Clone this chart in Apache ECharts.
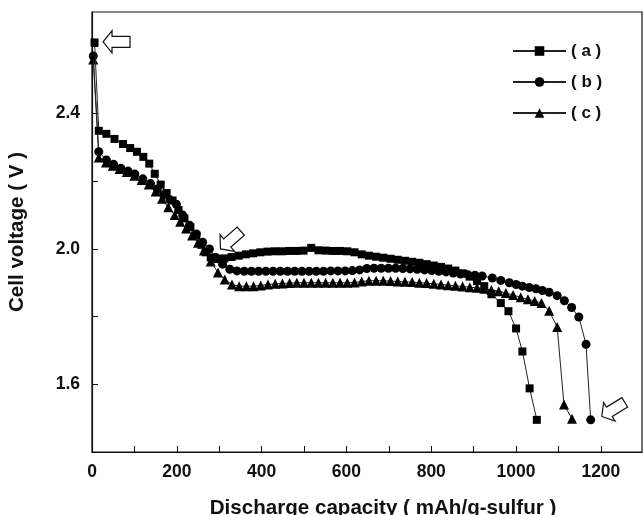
<!DOCTYPE html>
<html><head><meta charset="utf-8">
<script src="https://cdn.jsdelivr.net/npm/echarts@6/dist/echarts.min.js"></script>
<style>html,body{margin:0;padding:0;background:#fff}#c{width:643px;height:515px}</style>
</head><body><div id="c"></div>
<script>
const seriesNames = ['( a )', '( b )', '( c )'];
const seriesSymbols = ['rect', 'circle', 'triangle'];

// (a) squares: [capacity mAh/g, voltage V]
const dataA = [[6,2.61],[16,2.349],[34,2.34],[53,2.325],[73,2.31],[90,2.298],[106,2.287],[121,2.272],[135,2.252],[148,2.222],[162,2.19],[176,2.165],[190,2.143],[204,2.115],[218,2.09],[232,2.064],[246,2.04],[258,2.012],[268,1.99],[280,1.975],[296,1.97],[312,1.972],[329,1.976],[346,1.98],[363,1.984],[380,1.987],[397,1.99],[414,1.992],[431,1.993],[448,1.993],[465,1.994],[482,1.994],[499,1.995],[517,2.003],[534,1.996],[551,1.995],[568,1.994],[585,1.994],[602,1.993],[619,1.99],[636,1.984],[653,1.98],[670,1.977],[687,1.974],[704,1.971],[721,1.968],[738,1.965],[755,1.962],[772,1.959],[789,1.955],[806,1.951],[823,1.947],[840,1.942],[857,1.936],[874,1.928],[891,1.918],[908,1.905],[925,1.89],[942,1.866],[964,1.84],[982,1.816],[1000,1.765],[1015,1.697],[1032,1.588],[1049,1.495]];

// (b) circles
const dataB = [[3,2.57],[16,2.287],[34,2.263],[51,2.25],[68,2.238],[85,2.23],[101,2.221],[120,2.207],[138,2.193],[154,2.177],[169,2.16],[184,2.145],[199,2.132],[214,2.1],[230,2.07],[246,2.044],[261,2.02],[277,2.0],[292,1.975],[308,1.955],[325,1.94],[342,1.935],[359,1.934],[376,1.934],[393,1.934],[410,1.934],[427,1.934],[444,1.934],[461,1.934],[478,1.934],[495,1.934],[512,1.934],[529,1.934],[546,1.934],[563,1.935],[580,1.935],[597,1.935],[614,1.936],[631,1.938],[648,1.942],[665,1.943],[682,1.943],[699,1.943],[716,1.943],[733,1.942],[750,1.941],[767,1.94],[784,1.938],[801,1.936],[818,1.934],[835,1.932],[852,1.929],[869,1.926],[886,1.924],[903,1.922],[920,1.92],[944,1.914],[964,1.907],[984,1.9],[1000,1.895],[1015,1.89],[1031,1.886],[1047,1.882],[1062,1.877],[1078,1.872],[1097,1.862],[1114,1.847],[1131,1.827],[1148,1.799],[1165,1.718],[1176,1.495]];

// (c) triangles
const dataC = [[3,2.56],[16,2.27],[33,2.255],[49,2.246],[65,2.236],[82,2.227],[100,2.216],[117,2.204],[134,2.19],[150,2.17],[165,2.148],[180,2.123],[195,2.1],[208,2.08],[222,2.06],[236,2.04],[250,2.018],[264,1.995],[280,1.963],[297,1.93],[313,1.91],[330,1.895],[347,1.89],[364,1.89],[381,1.89],[398,1.892],[415,1.895],[432,1.897],[449,1.898],[466,1.899],[483,1.9],[500,1.9],[517,1.9],[534,1.9],[551,1.9],[568,1.9],[585,1.9],[602,1.9],[619,1.901],[636,1.904],[653,1.906],[670,1.906],[687,1.906],[704,1.905],[721,1.904],[738,1.903],[755,1.902],[772,1.9],[789,1.899],[806,1.897],[823,1.895],[840,1.893],[857,1.891],[874,1.889],[891,1.887],[908,1.885],[925,1.882],[942,1.879],[959,1.875],[976,1.87],[993,1.864],[1011,1.857],[1028,1.851],[1044,1.846],[1060,1.84],[1078,1.817],[1097,1.769],[1113,1.54],[1132,1.498]];

const xLabelValues = [0, 200, 400, 600, 800, 1000, 1200];
const yLabelValues = [1.6, 2.0, 2.4];
// annotation arrows: [capacity, voltage of the tip, rotation (rad)]
const arrowTips = [[26, 2.612, 0], [303, 2.0, 0.72], [1202, 1.505, 0.55]];

const FONT = '"Liberation Sans", Arial, sans-serif';
const symbolSizes = [8, 9, 10];
const allData = [dataA, dataB, dataC];

const chart = echarts.init(document.getElementById('c'), null, {renderer: 'canvas'});
const option = {
  animation: false,
  backgroundColor: '#fff',
  grid: {left: 92, right: 1, top: 12, bottom: 63, show: true, borderColor: '#111', borderWidth: 1.2,
    containLabel: false, outerBoundsMode: 'none'},
  legend: {
    orient: 'vertical', left: 507, top: 37,
    itemWidth: 53, itemHeight: 12, itemGap: 13,
    textStyle: {fontFamily: FONT, fontSize: 17, fontWeight: 'bold', color: '#111', lineHeight: 18},
    data: seriesNames
  },
  xAxis: {
    type: 'value', min: 0, max: 1297, interval: 100,
    name: 'Discharge capacity ( mAh/g-sulfur )', nameLocation: 'middle', nameGap: 46,
    nameTextStyle: {fontFamily: FONT, fontSize: 20.6, fontWeight: 'bold', color: '#111', padding: [0, 0, 0, 32]},
    axisLine: {show: true, lineStyle: {color: '#111', width: 1.2}},
    axisTick: {show: true, inside: true, length: 6, lineStyle: {color: '#111'}},
    axisLabel: {fontFamily: FONT, fontSize: 17.5, fontWeight: 'bold', color: '#111', margin: 11, showMaxLabel: false,
      formatter: v => xLabelValues.includes(Math.round(v)) && Math.abs(v - Math.round(v)) < 1e-6 ? String(Math.round(v)) : ''},
    splitLine: {show: false}
  },
  yAxis: {
    type: 'value', min: 1.4, max: 2.7, interval: 0.2,
    name: 'Cell voltage ( V )', nameLocation: 'middle', nameGap: 64,
    nameTextStyle: {fontFamily: FONT, fontSize: 20.6, fontWeight: 'bold', color: '#111'},
    axisLine: {show: true, lineStyle: {color: '#111', width: 1.2}},
    axisTick: {show: true, inside: true, length: 6, lineStyle: {color: '#111'}},
    axisLabel: {fontFamily: FONT, fontSize: 17.5, fontWeight: 'bold', color: '#111', margin: 12, showMaxLabel: false, showMinLabel: false,
      formatter: v => yLabelValues.some(t => Math.abs(t - v) < 1e-6) ? v.toFixed(1) : ''},
    splitLine: {show: false}
  },
  series: seriesNames.map((n, i) => ({
    name: n, type: 'line', data: allData[i],
    symbol: seriesSymbols[i], symbolSize: symbolSizes[i],
    showAllSymbol: true,
    itemStyle: {color: '#000'},
    lineStyle: {color: '#222', width: 1},
    z: 3 - i
  }))
};
chart.setOption(option);

const graphics = arrowTips.map(a => {
  const p = chart.convertToPixel({gridIndex: 0}, [a[0], a[1]]);
  return {
    type: 'polygon', x: p[0], y: p[1], rotation: a[2], z: 100,
    shape: {points: [[0,0],[9,-11],[9,-5.5],[27,-5.5],[27,5.5],[9,5.5],[9,11]]},
    style: {fill: '#fff', stroke: '#111', lineWidth: 1.2}
  };
});
chart.setOption({graphic: graphics});
</script>
</body></html>
